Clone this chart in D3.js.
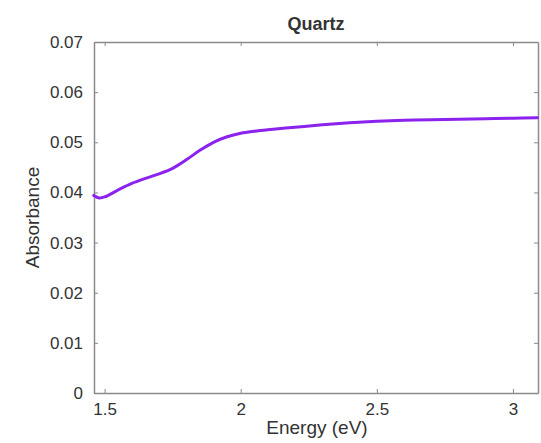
<!DOCTYPE html>
<html>
<head>
<meta charset="utf-8">
<script src="https://cdn.jsdelivr.net/npm/d3@7"></script>
<style>
  html, body { margin: 0; padding: 0; background: #fff; }
  svg { display: block; }
  text { font-family: "Liberation Sans", Arial, Helvetica, sans-serif; fill: #333; }
</style>
</head>
<body>
<svg id="chart" width="541" height="443"></svg>
<script>
const energy = [1.46, 1.48, 1.50, 1.55, 1.60, 1.65, 1.70, 1.75, 1.80, 1.85, 1.90, 1.95, 2.00, 2.05, 2.10, 2.20, 2.30, 2.40, 2.50, 2.60, 2.70, 2.80, 2.90, 3.00, 3.09];
const absorbance = [0.0394, 0.0389, 0.0391, 0.0405, 0.0418, 0.0428, 0.0437, 0.0448, 0.0465, 0.0484, 0.0500, 0.0511, 0.0518, 0.0522, 0.0525, 0.0530, 0.0535, 0.0539, 0.0542, 0.0544, 0.0545, 0.0546, 0.0547, 0.0548, 0.0549];
const xTicks = [1.5, 2, 2.5, 3];
const xTickLabels = ["1.5", "2", "2.5", "3"];
const yTicks = [0, 0.01, 0.02, 0.03, 0.04, 0.05, 0.06, 0.07];
const yTickLabels = ["0", "0.01", "0.02", "0.03", "0.04", "0.05", "0.06", "0.07"];
const title = "Quartz";
const xLabel = "Energy (eV)";
const yLabel = "Absorbance";

const svg = d3.select("#chart");
const m = { left: 94, right: 538, top: 42, bottom: 393 };
const x = d3.scaleLinear().domain([1.461, 3.092]).range([m.left, m.right]);
const y = d3.scaleLinear().domain([0, 0.07]).range([m.bottom, m.top]);

const axisColor = "#8a8a8a";
const tickLen = 4;

const gB = svg.append("g").attr("transform", `translate(0,${m.bottom})`)
  .call(d3.axisBottom(x).tickValues(xTicks).tickFormat((d, i) => xTickLabels[i]).tickSizeInner(-tickLen).tickSizeOuter(0).tickPadding(10));
const gT = svg.append("g").attr("transform", `translate(0,${m.top})`)
  .call(d3.axisTop(x).tickValues(xTicks).tickFormat("").tickSizeInner(-tickLen).tickSizeOuter(0));
const gL = svg.append("g").attr("transform", `translate(${m.left},0)`)
  .call(d3.axisLeft(y).tickValues(yTicks).tickFormat((d, i) => yTickLabels[i]).tickSizeInner(-tickLen).tickSizeOuter(0).tickPadding(11));
const gR = svg.append("g").attr("transform", `translate(${m.right},0)`)
  .call(d3.axisRight(y).tickValues(yTicks).tickFormat("").tickSizeInner(-tickLen).tickSizeOuter(0));

[gB, gT, gL, gR].forEach(g => {
  g.select(".domain").attr("stroke", axisColor).attr("stroke-width", 1.5);
  g.selectAll(".tick line").attr("stroke", axisColor).attr("stroke-width", 1);
  g.selectAll(".tick text").attr("font-size", 17).attr("fill", "#333")
    .style("font-family", '"Liberation Sans", Arial, sans-serif');
});

const line = d3.line().x((d, i) => x(energy[i])).y(d => y(d)).curve(d3.curveCatmullRom.alpha(0.5));
svg.append("path").datum(absorbance)
  .attr("d", line).attr("fill", "none")
  .attr("stroke", "#8b22ee").attr("stroke-width", 3)
  .attr("stroke-linejoin", "round").attr("stroke-linecap", "round");

svg.append("text").attr("x", (m.left + m.right) / 2).attr("y", 30)
  .attr("text-anchor", "middle").attr("font-size", 18).attr("font-weight", "bold")
  .attr("fill", "#111").text(title);

svg.append("text").attr("x", (m.left + m.right) / 2 + 1).attr("y", 434)
  .attr("text-anchor", "middle").attr("font-size", 19).text(xLabel);

svg.append("text").attr("transform", `translate(39,${(m.top + m.bottom) / 2}) rotate(-90)`)
  .attr("text-anchor", "middle").attr("font-size", 19).text(yLabel);
</script>
</body>
</html>
